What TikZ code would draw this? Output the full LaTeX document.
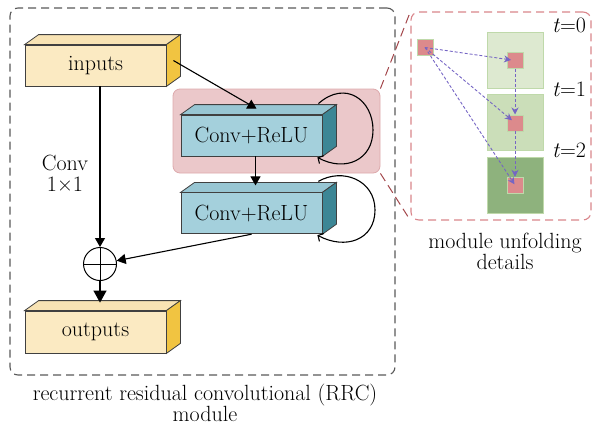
\documentclass[tikz,border=0pt]{standalone}
\usepackage{fontspec}
\usepackage{color}
\usetikzlibrary{positioning}
\usetikzlibrary{arrows.meta}

\definecolor{yfront}{HTML}{FBEAC2}
\definecolor{ytop}{HTML}{F8E3B4}
\definecolor{yside}{HTML}{F1C441}
\definecolor{bfront}{HTML}{A4D0DC}
\definecolor{btop}{HTML}{98C6D3}
\definecolor{bside}{HTML}{3C8695}
\definecolor{hlfill}{HTML}{EBC8CA}
\definecolor{hldraw}{HTML}{DDA9AC}
\definecolor{zoomred}{HTML}{A3474B}
\definecolor{detred}{HTML}{D9858B}
\definecolor{gA}{HTML}{DDE9D0}
\definecolor{gB}{HTML}{CBDEB9}
\definecolor{gC}{HTML}{8EB27D}
\definecolor{gline}{HTML}{BFD9AA}
\definecolor{pcell}{HTML}{DC8A8C}
\definecolor{unfoldc}{HTML}{7565C4}

\begin{document}
\begin{tikzpicture}
      [ x=1pt, y=-1pt
        , every node/.style={font=\fontsize{22}{21}\selectfont}
        , block/.style={rectangle, draw=black!75, line width=0.8pt, inner sep=0pt, minimum width=141pt, minimum height=41pt}
        , yblock/.style={block, fill=yfront}
        , bblock/.style={block, fill=bfront}
        , arr/.style={line width=1.1pt, -{Triangle[length=9pt,width=10pt]}}
        , loopy/.style={line width=1.1pt, -{Straight Barb[length=4pt,width=9pt]}}
        , unfold/.style={densely dashed, line width=0.9pt, draw=unfoldc, -{Stealth[length=7pt,width=7pt,fill=unfoldc]}}
        , cell/.style={rectangle, draw=gline, line width=0.8pt, minimum size=56pt, inner sep=0pt}
        , tiny/.style={rectangle, fill=pcell, draw=gline, line width=0.6pt, minimum size=16pt, inner sep=0pt}
      ]
      \useasboundingbox (0,0) rectangle (594,426);

      % outer module and the highlight
      \node (rrc) at (202.5,191.5) [rectangle, draw=black!65, dashed, dash pattern=on 8pt off 5pt, line width=1.1pt, rounded corners=8pt, minimum width=385pt, minimum height=367pt] {};
      \node (hl) at (276.5,131) [rectangle, rounded corners=7pt, fill=hlfill, draw=hldraw, line width=0.8pt, minimum width=207pt, minimum height=84pt] {};

      % unfolding details
      \node (det) at (501,116) [rectangle, draw=detred, dashed, dash pattern=on 8pt off 5pt, line width=1.1pt, rounded corners=8pt, minimum width=180pt, minimum height=208pt] {};
      \draw[zoomred, dashed, dash pattern=on 9pt off 5pt, line width=1pt] (hl.north east) -- (det.north west);
      \draw[zoomred, dashed, dash pattern=on 9pt off 5pt, line width=1pt] (hl.south east) -- (det.south west);

      \node (g0) at (515,60.5) [cell, fill=gA] {};
      \node (g1) [cell, fill=gB, below=5.5pt of g0] {};
      \node (g2) [cell, fill=gC, below=5.5pt of g1] {};
      \node (src) at (425,47.5) [tiny] {};
      \node (p0) at (g0) [tiny] {};
      \node (p1) at (g1) [tiny] {};
      \node (p2) at (g2) [tiny] {};
      \draw[unfold, shorten >=4pt] (src.center) -- (p0.center);
      \draw[unfold, shorten >=4pt] (src.center) -- (p1.center);
      \draw[unfold, shorten >=1pt] (src.center) -- (p2.center);
      \draw[unfold] (p0) -- (p1);
      \draw[unfold] (p1) -- (p2);
      \node (t0) at (569,25) {\textit{t}=0};
      \node (t1) at (569,89) {\textit{t}=1};
      \node (t2) at (569,150) {\textit{t}=2};
      \node (detText) at (505,251) [align=center] {module unfolding\\details};

      % boxes
      \node (in) at (95.5,65.5) [yblock] {inputs};
      \node (out) at (95.5,332) [yblock, minimum height=42pt] {outputs};
      \node (c1) at (251.5,135.5) [bblock] {Conv+ReLU};
      \node (c2) [bblock, below=36pt of c1] {Conv+ReLU};
      \foreach \b/\t/\s in {in/ytop/yside, out/ytop/yside, c1/btop/bside, c2/btop/bside}
      {
        \filldraw[fill=\t, draw=black!75, line width=0.8pt] (\b.north west) -- ++(14,-10) -- ([shift={(14,-10)}]\b.north east) -- (\b.north east) -- cycle;
        \filldraw[fill=\s, draw=black!75, line width=0.8pt] (\b.north east) -- ++(14,-10) -- ([shift={(14,-10)}]\b.south east) -- (\b.south east) -- cycle;
      }

      \node (plus) at (100,264) [circle, draw, line width=1pt, minimum size=33pt, inner sep=0pt] {};
      \draw[line width=1pt] (plus.north) -- (plus.south) (plus.west) -- (plus.east);

      % connections
      \draw[arr] ([shift={(7,-5)}]in.east) -- ([shift={(5,-6)}]c1.north);
      \draw[arr] ([xshift=4pt]c1.south) -- ([shift={(4,-7)}]c2.north);
      \draw[arr] (in.south -| plus.north) -- (plus);
      \draw[arr] (c2.south) -- (plus);
      \draw[line width=1.1pt, -{Triangle[length=12pt,width=13pt]}] (plus) -- ([shift={(4.5,-8)}]out.north);

      \coordinate (l1) at (373,130);
      \coordinate (l2) at (375,210);
      \draw[loopy] ([shift={(-4,-11)}]c1.north east) .. controls +(27,-24) and +(0,-30) .. (l1) .. controls +(0,30) and +(28,15) .. ([xshift=-5pt,yshift=-1pt]c1.south east);
      \draw[loopy] ([shift={(-4,-11)}]c2.north east) .. controls +(24,-14) and +(0,-30) .. (l2) .. controls +(0,30) and +(28,15) .. ([xshift=-5pt,yshift=-1pt]c2.south east);

      \node (convLbl) at (65,173) [align=center] {Conv\\1×1};
      \node (rrcText) at (205,403) [align=center] {recurrent residual convolutional (RRC)\\module};
    \end{tikzpicture}
\end{document}
